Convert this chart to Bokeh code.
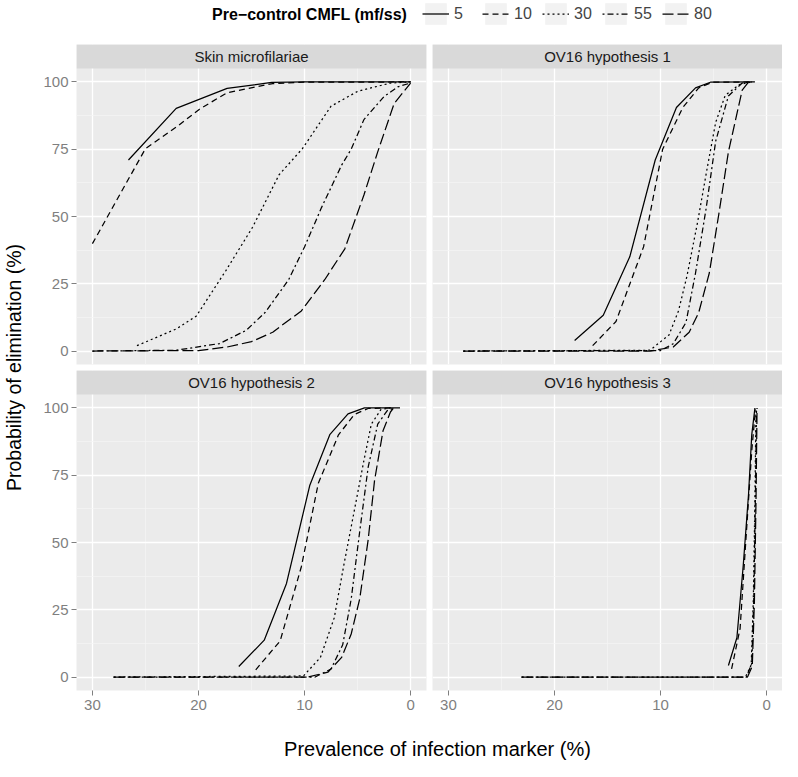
from bokeh.plotting import figure
from bokeh.models import Range1d, LinearAxis, Grid, FixedTicker, Legend, LegendItem, Label
from bokeh.layouts import column, row
from bokeh.embed import file_html
from bokeh.resources import INLINE
from bokeh.core.properties import value

# ---------------- data ----------------
series_labels = ["5", "10", "30", "55", "80"]
legend_title = "Pre\u2212control CMFL (mf/ss)"
panel_titles = ["Skin microfilariae", "OV16 hypothesis 1", "OV16 hypothesis 2", "OV16 hypothesis 3"]
x_ticks = [0, 10, 20, 30]
x_minor = [5, 15, 25]
y_ticks = [0, 25, 50, 75, 100]
y_minor = [12.5, 37.5, 62.5, 87.5]

# Skin microfilariae
skin_x_5 = [26.6, 22.1, 17.3, 13.1, 10.0, 0.0]
skin_y_5 = [71, 90.2, 97.6, 99.8, 100, 100]
skin_x_10 = [30.0, 25.0, 22.1, 19.9, 17.3, 13.0, 10.0, 0.0]
skin_y_10 = [39.9, 75.2, 83.2, 89.9, 96.0, 99.4, 99.9, 100]
skin_x_30 = [25.8, 22.1, 20.2, 17.4, 14.9, 12.4, 10.2, 7.5, 5.0, 1.9, 0.0]
skin_y_30 = [2.0, 8.2, 13.0, 30.0, 46.0, 65.5, 75.2, 91.0, 96.5, 99.6, 100]
skin_x_55 = [30.0, 22.1, 18.0, 15.5, 13.7, 11.5, 10.0, 8.4, 6.5, 5.6, 4.4, 2.5, 1.2, 0.0]
skin_y_55 = [0, 0.3, 2.8, 7.7, 14.4, 26.5, 38.7, 53.3, 69.1, 75.0, 86.0, 94.6, 98.2, 99.6]
skin_x_80 = [30.0, 20.0, 17.3, 15.0, 13.0, 10.3, 8.1, 6.2, 4.4, 3.1, 1.55, 0.0]
skin_y_80 = [0, 0.2, 1.5, 3.5, 7.0, 14.9, 26.5, 38.0, 58.0, 74.0, 92.0, 99.6]

# OV16 hypothesis 1
h1_x_5 = [18.1, 15.4, 12.9, 10.5, 8.5, 6.7, 5.3, 1.1]
h1_y_5 = [3.9, 13.3, 35.0, 71.0, 90.5, 97.8, 99.9, 100]
h1_x_10 = [16.4, 14.2, 11.6, 9.8, 7.9, 6.4, 5.1, 1.4]
h1_y_10 = [2.0, 11.0, 38.7, 75.0, 90.5, 97.8, 99.9, 100]
h1_x_30 = [28.6, 11.0, 9.2, 8.3, 7.5, 6.5, 5.6, 4.8, 3.9, 2.6, 1.4]
h1_y_30 = [0, 0.3, 6.0, 15.0, 28.0, 48.0, 68.0, 85.0, 95.0, 99.0, 100]
h1_x_55 = [28.6, 10.0, 8.8, 7.6, 6.7, 5.7, 4.8, 3.6, 2.3, 1.4]
h1_y_55 = [0, 0.2, 2.7, 10.6, 29.0, 53.0, 78.0, 94.8, 99.6, 100]
h1_x_80 = [28.6, 11.0, 8.8, 7.3, 6.4, 5.4, 4.5, 3.6, 2.3, 1.7]
h1_y_80 = [0, 0, 1.5, 7.0, 14.3, 29.0, 51.0, 74.0, 97.0, 100]

# OV16 hypothesis 2
h2_x_5 = [16.2, 13.8, 11.7, 9.5, 7.6, 5.9, 4.35, 1.0]
h2_y_5 = [3.9, 13.7, 34.8, 71.3, 90.2, 97.8, 100, 100]
h2_x_10 = [14.6, 12.3, 10.3, 8.7, 6.8, 5.3, 4.0, 1.7]
h2_y_10 = [2.7, 13.4, 41.0, 72.0, 90.0, 97.6, 99.8, 100]
h2_x_30 = [28.0, 10.1, 8.5, 7.2, 6.3, 5.3, 4.4, 3.7, 2.8, 1.9]
h2_y_30 = [0, 0.4, 7.3, 22.0, 41.5, 62.0, 80.5, 94.0, 99.4, 100]
h2_x_55 = [28.0, 9.0, 7.5, 6.4, 5.6, 4.8, 4.0, 3.1, 2.2, 1.55]
h2_y_55 = [0, 0, 3.0, 12.0, 29.0, 54.0, 78.0, 94.0, 99.0, 100]
h2_x_80 = [28.0, 9.7, 7.8, 6.5, 5.6, 4.8, 4.0, 3.4, 2.6, 1.9, 1.6]
h2_y_80 = [0, 0, 1.8, 7.3, 16.0, 29.0, 51.0, 73.0, 91.5, 98.5, 100]

# OV16 hypothesis 3
h3_x_5 = [3.6, 2.8, 2.2, 1.7, 1.4, 1.1]
h3_y_5 = [4.3, 14.6, 41.5, 68.0, 90.0, 100]
h3_x_10 = [3.3, 2.5, 1.9, 1.4, 1.05]
h3_y_10 = [3.0, 18.0, 54.0, 84.0, 99.4]
h3_x_30 = [23.1, 2.0, 1.45, 1.25, 1.1, 1.0]
h3_y_30 = [0, 0, 4.5, 29.0, 66.0, 100]
h3_x_55 = [23.1, 1.9, 1.4, 1.2, 1.05, 0.95]
h3_y_55 = [0, 0, 5.0, 30.0, 68.0, 100]
h3_x_80 = [23.1, 1.8, 1.35, 1.15, 1.0, 0.9]
h3_y_80 = [0, 0, 4.0, 28.0, 65.0, 100]

panel_data = [
    [(skin_x_5, skin_y_5), (skin_x_10, skin_y_10), (skin_x_30, skin_y_30), (skin_x_55, skin_y_55), (skin_x_80, skin_y_80)],
    [(h1_x_5, h1_y_5), (h1_x_10, h1_y_10), (h1_x_30, h1_y_30), (h1_x_55, h1_y_55), (h1_x_80, h1_y_80)],
    [(h2_x_5, h2_y_5), (h2_x_10, h2_y_10), (h2_x_30, h2_y_30), (h2_x_55, h2_y_55), (h2_x_80, h2_y_80)],
    [(h3_x_5, h3_y_5), (h3_x_10, h3_y_10), (h3_x_30, h3_y_30), (h3_x_55, h3_y_55), (h3_x_80, h3_y_80)],
]

# ---------------- style ----------------
FONT = "Liberation Sans"
DASHES = ["solid", "6 4", "2 3", "2 3 6 3", "11 4"]
LW = 1.25
PANEL_BG = "#EBEBEB"
STRIP_BG = "#D9D9D9"
TICK_COL = "#7F7F7F"

X0, X1 = 31.5, -1.5
Y0, Y1 = -5.0, 105.0
FRAME_W = 350
PANEL_H = 296
STRIP_H = 24
Y_TOP = Y1 + (Y1 - Y0) * STRIP_H / PANEL_H
LEFT_B = 48
GAP = 6
TOTAL_W = 782
YT_W = 28
LEFT_OFF = YT_W + LEFT_B
LEG_H = 44
LEG_FRAME_H = 40


def make_panel(idx, left_axis, bottom_axis):
    width = FRAME_W + (LEFT_B + GAP if left_axis else 0)
    bottom = 30 if bottom_axis else GAP
    height = PANEL_H + STRIP_H + bottom
    p = figure(width=width, height=height,
               x_range=Range1d(X0, X1), y_range=Range1d(Y0, Y_TOP),
               x_axis_type=None, y_axis_type=None,
               toolbar_location=None, output_backend="svg",
               min_border_left=LEFT_B if left_axis else 0,
               min_border_right=GAP if left_axis else 0,
               min_border_top=0, min_border_bottom=bottom,
               background_fill_color=PANEL_BG, border_fill_color="white",
               outline_line_color=None)
    xg = Grid(dimension=0, ticker=FixedTicker(ticks=x_ticks, minor_ticks=x_minor),
              grid_line_color="white", grid_line_width=1.3,
              minor_grid_line_color="#F5F5F5", minor_grid_line_width=0.7)
    yg = Grid(dimension=1, ticker=FixedTicker(ticks=y_ticks, minor_ticks=y_minor),
              grid_line_color="white", grid_line_width=1.3,
              minor_grid_line_color="#F5F5F5", minor_grid_line_width=0.7)
    p.add_layout(xg)
    p.add_layout(yg)
    # facet strip
    p.quad(left=[X0], right=[X1], bottom=[Y1], top=[Y_TOP],
           fill_color=STRIP_BG, line_color=None)
    p.text(x=[(X0 + X1) / 2], y=[(Y1 + Y_TOP) / 2], text=[panel_titles[idx]],
           text_align="center", text_baseline="middle",
           text_font=value(FONT), text_font_size="15px", text_color="#1A1A1A")
    for (xs, ys), dash in zip(panel_data[idx], DASHES):
        p.line(xs, ys, line_color="black", line_width=LW, line_dash=dash)
    if left_axis:
        ax = LinearAxis(ticker=FixedTicker(ticks=y_ticks))
        ax.axis_line_color = None
        ax.major_tick_line_color = TICK_COL
        ax.major_tick_out = 5
        ax.major_tick_in = 0
        ax.minor_tick_line_color = None
        ax.major_label_text_color = TICK_COL
        ax.major_label_text_font = FONT
        ax.major_label_text_font_size = "15px"
        ax.major_label_standoff = 3
        p.add_layout(ax, "left")
    if bottom_axis:
        bx = LinearAxis(ticker=FixedTicker(ticks=x_ticks))
        bx.axis_line_color = None
        bx.major_tick_line_color = TICK_COL
        bx.major_tick_out = 5
        bx.major_tick_in = 0
        bx.minor_tick_line_color = None
        bx.major_label_text_color = TICK_COL
        bx.major_label_text_font = FONT
        bx.major_label_text_font_size = "15px"
        bx.major_label_standoff = 4
        p.add_layout(bx, "below")
    return p


p1 = make_panel(0, True, False)
p2 = make_panel(1, False, False)
p3 = make_panel(2, True, True)
p4 = make_panel(3, False, True)

grid_h = (PANEL_H + STRIP_H + GAP) + (PANEL_H + STRIP_H + 30)

# ---- y title ----
yf = figure(width=YT_W, height=grid_h, x_range=Range1d(0, 1), y_range=Range1d(0, 1),
            x_axis_type=None, y_axis_type=None, toolbar_location=None, output_backend="svg",
            min_border_left=YT_W - 2, min_border_right=0, min_border_top=0, min_border_bottom=30,
            outline_line_color=None)
ya = LinearAxis(ticker=FixedTicker(ticks=[]), axis_label="Probability of elimination (%)")
ya.axis_line_color = None
ya.major_tick_line_color = None
ya.minor_tick_line_color = None
ya.major_label_text_font_size = "0px"
ya.axis_label_text_font = FONT
ya.axis_label_text_font_size = "19.5px"
ya.axis_label_text_font_style = "normal"
ya.axis_label_text_color = "black"
ya.axis_label_standoff = 4
yf.add_layout(ya, "left")

# ---- x title ----
xf = figure(width=TOTAL_W, height=41, x_range=Range1d(0, 1), y_range=Range1d(0, 1),
            x_axis_type=None, y_axis_type=None, toolbar_location=None, output_backend="svg",
            min_border_left=LEFT_OFF + 16, min_border_right=0, min_border_top=40, min_border_bottom=0,
            outline_line_color=None)
xa = LinearAxis(ticker=FixedTicker(ticks=[]), axis_label="Prevalence of infection marker (%)")
xa.axis_line_color = None
xa.major_tick_line_color = None
xa.minor_tick_line_color = None
xa.major_label_text_font_size = "0px"
xa.axis_label_text_font = FONT
xa.axis_label_text_font_size = "20px"
xa.axis_label_text_font_style = "normal"
xa.axis_label_text_color = "black"
xa.axis_label_standoff = 1
xf.add_layout(xa, "above")

# ---- legend ----
LEG_FRAME_W = TOTAL_W - LEFT_OFF
lf = figure(width=TOTAL_W, height=LEG_H,
            x_range=Range1d(0, LEG_FRAME_W), y_range=Range1d(0, LEG_FRAME_H),
            x_axis_type=None, y_axis_type=None, toolbar_location=None, output_backend="svg",
            min_border_left=LEFT_OFF, min_border_right=0, min_border_top=0,
            min_border_bottom=LEG_H - LEG_FRAME_H, outline_line_color=None)
# hidden renderers that only lend their styles to the legend keys
key_bg = lf.quad(left=[X0], right=[X1], bottom=[Y1], top=[Y_TOP],
                 fill_color="#F2F2F2", line_color=None, visible=False)
items = []
for lab, dash, (xs, ys) in zip(series_labels, DASHES, panel_data[0]):
    r = lf.line(xs, ys, line_color="black", line_width=LW, line_dash=dash, visible=False)
    items.append(LegendItem(label=lab, renderers=[key_bg, r]))
LEG_X = 330          # left edge of the keys inside the legend frame (px)
KEY = 27
leg = Legend(items=items, orientation="horizontal", location=(LEG_X, 13),
             label_text_font=FONT, label_text_font_size="16px", label_standoff=5,
             glyph_width=KEY, glyph_height=KEY, spacing=8, padding=0, margin=0,
             border_line_color=None, background_fill_alpha=0)
lf.add_layout(leg)
lf.add_layout(Label(x=LEG_X - 8, y=13 + KEY / 2, text=legend_title,
                    text_align="right", text_baseline="middle",
                    text_font=FONT, text_font_style="bold", text_font_size="16px",
                    text_color="black"))

layout = column(lf, row(yf, column(row(p1, p2), row(p3, p4))), xf)

open("out.html", "w").write(file_html(layout, INLINE))
